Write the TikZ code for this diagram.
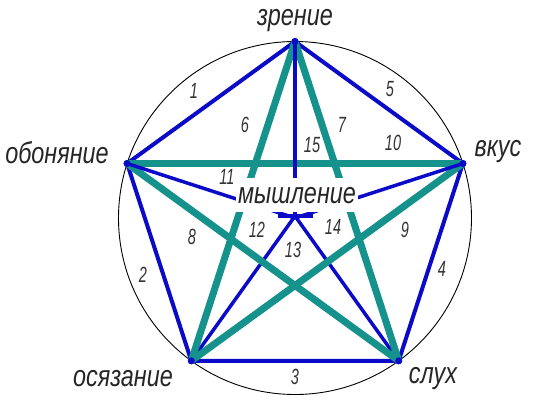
\documentclass[tikz,border=0pt]{standalone}
\usepackage{fontspec}
\newfontfamily\gost[FakeStretch=0.78]{Liberation Sans}
\newfontfamily\gostnum[FakeStretch=0.66]{Liberation Sans}
\definecolor{myblue}{RGB}{10,10,200}
\definecolor{myteal}{RGB}{22,146,140}
\begin{document}
\begin{tikzpicture}[x=1pt,y=-1pt,
  edge/.style={draw=myblue,line width=4pt,line cap=round},
  spoke/.style={draw=myblue,line width=3.5pt},
  starline/.style={draw=myteal,line width=7pt},
  vtx/.style={circle,fill=myblue,inner sep=0pt,minimum size=7pt},
  lbl/.style={font=\gost\itshape\fontsize{30}{30}\selectfont,text=black!85,inner sep=0pt},
  num/.style={font=\gostnum\itshape\fontsize{22}{22}\selectfont,text=black!80,inner sep=0pt}]
\useasboundingbox (0,0) rectangle (536,400);
\draw[line width=0.9pt] (295,218) circle (176.5);
% vertices
\node[vtx] (z) at (295,41.5) {};
\node[vtx] (o) at (127.1,163.5) {};
\node[vtx] (v) at (462.9,163.5) {};
\node[vtx] (os) at (191.3,360.8) {};
\node[vtx] (s) at (398.7,360.8) {};
\coordinate (c) at (295,216);
\coordinate (cc) at (295,218);
\coordinate (tl) at (278,216);
\coordinate (tr) at (313,216);
% pentagon
\draw[edge] (z.center) -- (v.center) -- (s.center) -- (os.center) -- (o.center) -- cycle;
% lower spokes
\draw[spoke] (os.center) -- (c);
\draw[spoke] (s.center) -- (c);
\draw[spoke] (tl) -- (tr);
% pentagram
\draw[starline] (z.center) -- (os.center);
\draw[starline] (z.center) -- (s.center);
\draw[starline] (o.center) -- (v.center);
\draw[starline] (o.center) -- (s.center);
\draw[starline] (v.center) -- (os.center);
% upper spokes
\draw[spoke] (z.center) -- (cc);
\draw[spoke] (o.center) -- (cc);
\draw[spoke] (v.center) -- (cc);
% redraw vertex dots on top
\foreach \p in {z,o,v,os,s} \fill[myblue] (\p) circle (3.5);
% centre label
\node[lbl,fill=white,minimum width=122pt,minimum height=34pt,text depth=0pt] (m) at (297,195) {мышление};
% outer labels
\node[lbl] (lz) at (295,21) {зрение};
\node[lbl] (lo) at (57,153) {обоняние};
\node[lbl] (lv) at (498,152) {вкус};
\node[lbl] (los) at (123,379) {осязание};
\node[lbl] (ls) at (433,379) {слух};
% numbers
\node[num] (n1) at (194,91) {1};
\node[num] (n2) at (143,275) {2};
\node[num] (n3) at (295,377) {3};
\node[num] (n4) at (442,269) {4};
\node[num] (n5) at (390,89) {5};
\node[num] (n6) at (245,125) {6};
\node[num] (n7) at (342,125) {7};
\node[num] (n8) at (192,237) {8};
\node[num] (n9) at (405,230) {9};
\node[num] (n10) at (393,143) {10};
\node[num] (n11) at (227,177) {11};
\node[num] (n12) at (257,230) {12};
\node[num] (n13) at (293,250) {13};
\node[num] (n14) at (333,227) {14};
\node[num] (n15) at (312,145) {15};
\end{tikzpicture}
\end{document}
